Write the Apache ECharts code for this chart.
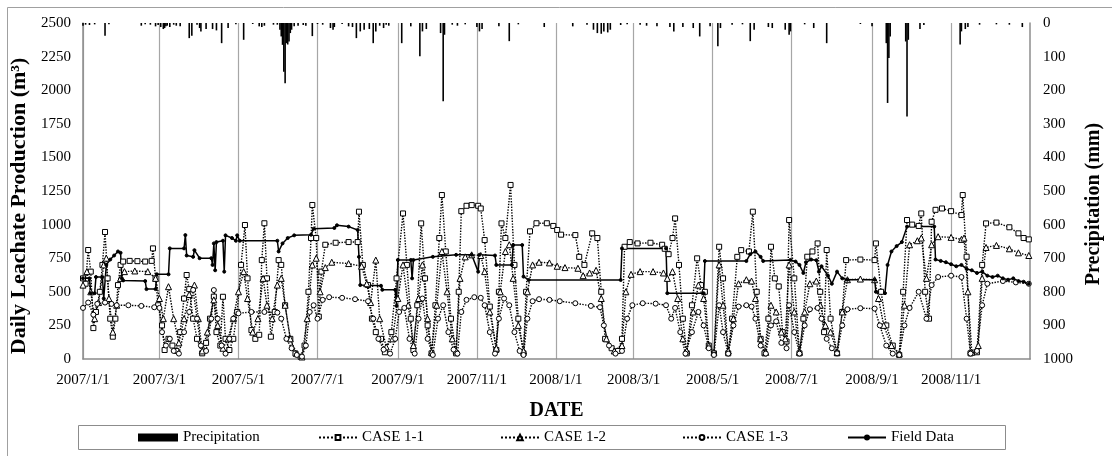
<!DOCTYPE html>
<html><head><meta charset="utf-8">
<script src="https://cdn.jsdelivr.net/npm/echarts@6/dist/echarts.min.js"></script>
<style>html,body{margin:0;padding:0;background:#fff}#c{width:1112px;height:456px}</style>
</head><body><div id="c"></div>
<script>
// x values: day of record, counted from 2007/1/1 (day 0)
const tickLabels = ['2007/1/1','2007/3/1','2007/5/1','2007/7/1','2007/9/1','2007/11/1','2008/1/1','2008/3/1','2008/5/1','2008/7/1','2008/9/1','2008/11/1'];
const endLabel = '2009/1/1';
const leftTicks = {min:0, max:2500, step:250};
const rightTicks = {min:0, max:1000, step:100};

const precipitation = [[0,8],[2,5],[5,6],[9,4],[17,38],[20,4],[45,8],[48,4],[52,5],[56,10],[58,6],[60,12],[62,18],[63,15],[64,10],[65,8],[67,12],[70,5],[72,8],[75,10],[82,45],[84,38],[88,5],[90,15],[91,25],[95,18],[100,18],[103,22],[107,60],[112,15],[118,4],[124,50],[131,3],[136,10],[138,12],[140,8],[147,5],[150,5],[152,20],[153,40],[154,65],[155,145],[156,179],[157,60],[158,64],[159,55],[160,30],[161,20],[163,10],[166,8],[170,6],[172,8],[177,39],[181,3],[185,5],[191,15],[193,20],[194,12],[200,3],[205,10],[208,12],[211,45],[214,25],[217,20],[221,18],[224,60],[226,25],[229,8],[232,15],[234,5],[236,8],[246,60],[253,10],[260,99],[262,25],[265,18],[276,30],[278,233],[279,35],[285,5],[289,8],[295,4],[304,12],[306,25],[308,18],[321,10],[329,54],[336,4],[356,12],[378,10],[389,5],[394,20],[397,30],[400,32],[402,25],[405,28],[407,20],[415,6],[420,4],[430,5],[435,8],[443,10],[453,12],[456,25],[463,12],[471,15],[476,40],[484,10],[490,69],[492,15],[501,5],[509,4],[515,54],[518,20],[529,12],[532,15],[542,20],[545,35],[546,25],[557,4],[564,15],[574,60],[600,3],[609,10],[620,60],[621,238],[622,104],[623,40],[635,55],[636,278],[637,50],[646,18],[649,6],[677,64],[678,25],[681,18],[683,12],[692,5],[705,4],[715,5],[725,12]];

const case11 = [[0,600],[2,560],[4,811],[6,650],[8,230],[10,350],[13,500],[15,700],[17,945],[19,600],[21,300],[23,166],[25,300],[27,550],[29,700],[31,725],[36,730],[42,728],[48,725],[53,730],[54,823],[56,600],[58,400],[61,250],[63,67],[66,150],[69,100],[72,60],[75,200],[78,450],[80,625],[82,520],[85,300],[88,150],[92,42],[95,120],[98,300],[101,464],[103,200],[106,100],[108,463],[110,150],[113,67],[116,150],[119,350],[122,700],[125,997],[127,600],[130,215],[133,150],[136,180],[138,736],[140,1010],[142,600],[145,166],[148,350],[151,736],[153,700],[156,400],[160,150],[164,40],[168,17],[171,100],[174,500],[176,900],[177,1146],[180,900],[182,315],[184,650],[187,850],[195,865],[205,870],[212,870],[213,1096],[216,700],[220,550],[223,300],[226,200],[230,150],[233,50],[238,200],[242,600],[247,1083],[250,700],[253,300],[255,67],[258,400],[261,1009],[264,600],[266,250],[269,42],[272,400],[275,900],[277,1220],[280,800],[284,300],[288,42],[290,500],[292,1100],[296,1140],[300,1145],[305,1140],[307,1120],[310,885],[314,390],[319,67],[321,500],[323,1009],[326,900],[330,1295],[333,700],[336,300],[340,42],[342,500],[345,950],[350,1010],[358,1010],[363,990],[366,960],[369,925],[380,922],[383,760],[387,700],[393,935],[397,900],[400,500],[403,150],[408,80],[413,60],[416,150],[418,835],[422,870],[428,860],[438,865],[447,850],[449,820],[452,780],[455,900],[457,1046],[460,700],[463,300],[466,42],[470,400],[474,749],[477,550],[480,500],[483,100],[487,42],[491,835],[494,600],[498,42],[501,300],[505,760],[508,810],[514,800],[517,1096],[520,500],[523,150],[526,42],[529,300],[531,835],[534,600],[537,540],[540,200],[543,130],[545,1034],[549,600],[553,42],[556,300],[559,761],[563,800],[567,860],[569,500],[572,200],[574,811],[577,300],[582,42],[586,350],[589,736],[600,740],[611,736],[612,860],[616,500],[620,250],[625,100],[630,30],[633,500],[636,1034],[640,1000],[645,990],[647,1083],[650,500],[653,300],[655,1021],[658,1110],[663,1120],[670,1100],[678,1071],[679,1220],[682,761],[685,42],[690,50],[694,700],[697,1009],[705,1015],[715,980],[722,935],[726,900],[730,890]];

const case12 = [[0,550],[3,650],[6,500],[9,300],[12,420],[16,700],[18,750],[20,450],[23,200],[26,400],[29,600],[32,650],[40,655],[50,650],[56,600],[59,450],[62,300],[66,538],[70,300],[74,120],[78,300],[82,480],[86,550],[89,300],[92,60],[96,200],[101,440],[104,250],[108,80],[112,150],[116,300],[120,500],[124,650],[127,450],[131,200],[135,300],[139,600],[142,400],[146,300],[150,550],[153,600],[156,400],[160,150],[165,40],[169,15],[173,300],[177,700],[180,750],[183,500],[187,680],[192,720],[205,710],[215,690],[219,560],[222,420],[226,736],[229,300],[234,90],[239,150],[243,450],[247,700],[251,400],[255,100],[259,450],[262,700],[266,300],[269,50],[273,400],[277,800],[281,500],[285,150],[288,60],[291,600],[295,760],[300,775],[307,770],[310,650],[314,350],[319,80],[322,500],[326,800],[329,850],[332,600],[336,250],[340,60],[343,500],[347,700],[352,720],[360,715],[366,690],[372,680],[382,675],[386,620],[391,640],[396,660],[400,450],[404,150],[410,60],[416,100],[419,500],[423,630],[430,650],[440,650],[448,640],[451,600],[455,650],[459,450],[463,150],[466,60],[471,350],[475,550],[479,450],[483,100],[487,50],[491,700],[494,400],[498,60],[502,300],[506,560],[512,590],[516,580],[519,450],[523,150],[527,50],[531,400],[535,350],[539,200],[542,150],[545,700],[549,350],[553,50],[557,350],[561,560],[566,580],[569,400],[573,250],[577,200],[582,50],[586,350],[590,590],[600,595],[611,590],[614,450],[618,250],[624,100],[630,40],[634,400],[638,850],[644,880],[647,900],[651,600],[655,850],[660,910],[670,905],[678,890],[680,900],[683,500],[686,50],[691,100],[694,600],[697,830],[705,845],[715,820],[722,790],[730,770]];

const case13 = [[0,380],[4,420],[8,330],[11,410],[17,420],[22,410],[26,400],[35,400],[45,395],[55,385],[59,380],[61,200],[64,100],[67,150],[70,60],[74,40],[78,200],[82,350],[85,514],[88,300],[91,100],[95,60],[99,300],[101,513],[104,300],[107,100],[110,40],[113,150],[116,300],[120,340],[130,350],[140,350],[150,345],[153,300],[157,150],[161,80],[165,30],[169,18],[172,100],[175,350],[178,400],[181,300],[185,440],[190,460],[200,455],[210,445],[220,430],[224,300],[228,150],[232,70],[237,40],[241,150],[244,350],[248,380],[252,150],[256,40],[259,300],[262,450],[266,150],[270,30],[274,300],[278,400],[282,200],[286,70],[289,40],[292,350],[296,440],[302,460],[307,455],[310,400],[314,200],[318,40],[321,300],[325,450],[329,400],[333,200],[337,60],[340,30],[343,300],[347,430],[352,445],[360,440],[368,430],[380,415],[392,395],[399,385],[402,250],[406,100],[411,40],[416,60],[420,300],[424,400],[432,415],[442,412],[450,400],[454,300],[457,380],[461,200],[465,40],[470,200],[475,350],[479,250],[483,80],[487,30],[491,400],[494,200],[498,40],[502,250],[506,390],[512,400],[516,390],[519,300],[523,100],[527,40],[531,250],[535,280],[539,120],[543,80],[545,400],[549,200],[553,40],[557,250],[561,370],[567,380],[570,300],[574,150],[578,80],[582,42],[586,250],[590,370],[600,378],[611,375],[615,250],[620,100],[625,40],[630,30],[634,250],[638,380],[645,500],[651,300],[655,550],[660,610],[670,620],[678,610],[682,300],[685,40],[690,60],[694,400],[698,560],[710,580],[720,570],[730,560]];

const fieldData = [[0,600],[5,600],[6,490],[9,490],[10,610],[15,610],[16,450],[18,700],[21,740],[24,770],[27,800],[29,790],[30,600],[31,585],[48,580],[49,520],[56,520],[57,630],[66,630],[67,823],[78,823],[79,922],[80,770],[85,760],[86,810],[90,750],[99,750],[100,700],[101,860],[102,660],[103,870],[108,880],[109,650],[110,920],[115,900],[118,880],[119,920],[121,880],[150,880],[151,800],[154,860],[158,900],[163,920],[176,925],[178,970],[194,975],[196,995],[205,985],[212,960],[213,760],[214,550],[230,545],[231,515],[241,515],[242,395],[243,737],[253,737],[254,600],[255,737],[270,760],[288,775],[300,775],[305,650],[306,775],[318,770],[319,700],[331,700],[332,848],[339,848],[340,613],[344,588],[415,588],[416,823],[450,823],[451,490],[479,490],[480,729],[512,729],[515,780],[519,800],[523,760],[525,729],[546,737],[550,725],[553,700],[556,640],[558,720],[562,740],[566,735],[568,650],[570,690],[575,620],[578,560],[582,650],[586,600],[590,590],[611,590],[612,500],[619,490],[621,700],[624,800],[628,840],[632,870],[636,985],[657,985],[658,740],[662,730],[666,720],[670,705],[674,690],[678,700],[682,670],[686,660],[690,640],[694,650],[698,620],[702,610],[706,620],[710,600],[714,590],[718,600],[722,580],[726,575],[730,560]];

function dayOf(label){
  const p = label.split('/').map(Number);
  return Math.round((Date.UTC(p[0],p[1]-1,p[2]) - Date.UTC(2007,0,1)) / 86400000);
}
const tickDays = tickLabels.map(dayOf);
const endDay = dayOf(endLabel);
const labelByDay = {};
tickDays.forEach((d,i)=>{ labelByDay[d] = tickLabels[i]; });

const FONT = "'Liberation Serif','Times New Roman',serif";
const AX = '#8c8c8c';
const chart = echarts.init(document.getElementById('c'), null, {renderer:'canvas'});

function lineSeries(name, data, symbol, size, dotted, fill){
  return {
    name, type:'line', data, xAxisIndex:0, yAxisIndex:0,
    symbol, symbolSize:size, showAllSymbol:true,
    itemStyle:{color:fill, borderColor:'#000', borderWidth:1},
    lineStyle:{color:'#000', width: dotted?1.4:1.5, type: dotted?'dotted':'solid'},
    emphasis:{disabled:true}, animation:false
  };
}

const legendTop = 430;
function legendAt(left, name, w, h){
  return {left, top:legendTop, data:[name], itemWidth:w, itemHeight:h, itemGap:0,
    textStyle:{fontFamily:FONT, fontSize:15, color:'#000', padding:[0,0,0,0]}, selectedMode:false, padding:0};
}
const plain = v => String(v);

chart.setOption({
  animation:false,
  backgroundColor:'#fff',
  grid:{left:83, right:72, top:23, bottom:97, containLabel:false},
  xAxis:{
    type:'value', min:0, max:endDay,
    name:'DATE', nameLocation:'middle', nameGap:42,
    nameTextStyle:{fontFamily:FONT, fontSize:20, fontWeight:'bold', color:'#000'},
    axisLine:{show:true, onZero:false, lineStyle:{color:AX, width:1.5}},
    axisTick:{show:false, customValues:tickDays},
    axisLabel:{customValues:tickDays, formatter:v=>labelByDay[Math.round(v)]||'', fontFamily:FONT, fontSize:15, color:'#000', margin:14},
    splitLine:{show:true, lineStyle:{color:'#a6a6a6', width:1.2}}
  },
  yAxis:[{
    type:'value', min:leftTicks.min, max:leftTicks.max, interval:leftTicks.step, position:'left',
    name:'Daily Leachate Production (m³)', nameLocation:'middle', nameGap:50,
    nameTextStyle:{fontFamily:FONT, fontSize:22, fontWeight:'bold', color:'#000', padding:[0,30,0,0]},
    axisLine:{show:true, lineStyle:{color:AX, width:1.5}}, axisTick:{show:false},
    axisLabel:{formatter:plain, fontFamily:FONT, fontSize:15, color:'#000', margin:12},
    splitLine:{show:false}
  },{
    type:'value', min:rightTicks.min, max:rightTicks.max, interval:rightTicks.step, position:'right', inverse:true,
    name:'Precipitation (mm)', nameLocation:'middle', nameGap:44,
    nameTextStyle:{fontFamily:FONT, fontSize:20, fontWeight:'bold', color:'#000', padding:[0,26,0,0]},
    axisLine:{show:true, lineStyle:{color:AX, width:1.5}}, axisTick:{show:false},
    axisLabel:{formatter:plain, fontFamily:FONT, fontSize:15, color:'#000', margin:13},
    splitLine:{show:false}
  }],
  legend:[
    Object.assign(legendAt(138,'Precipitation',40,8),{icon:'rect'}),
    legendAt(318,'CASE 1-1',38,6),
    legendAt(500,'CASE 1-2',38,7),
    legendAt(682,'CASE 1-3',38,6),
    legendAt(847,'Field Data',38,5)
  ],
  graphic:[
    {type:'rect', shape:{x:78.5, y:425.5, width:927, height:24}, style:{fill:'none', stroke:AX, lineWidth:1}, silent:true},
    {type:'line', shape:{x1:7.5, y1:7.5, x2:1112, y2:7.5}, style:{stroke:'#a0a0a0', lineWidth:1}, silent:true},
    {type:'line', shape:{x1:7.5, y1:7.5, x2:7.5, y2:456}, style:{stroke:'#a0a0a0', lineWidth:1}, silent:true}
  ],
  series:[
    {name:'Precipitation', type:'bar', xAxisIndex:0, yAxisIndex:1, data:precipitation, barWidth:1.6,
     itemStyle:{color:'#000'}, emphasis:{disabled:true}},
    lineSeries('CASE 1-1', case11, 'rect', 5, true, '#fff'),
    lineSeries('CASE 1-2', case12, 'triangle', 6, true, '#fff'),
    lineSeries('CASE 1-3', case13, 'circle', 5, true, '#fff'),
    lineSeries('Field Data', fieldData, 'circle', 3, false, '#000')
  ]
});
</script></body></html>
